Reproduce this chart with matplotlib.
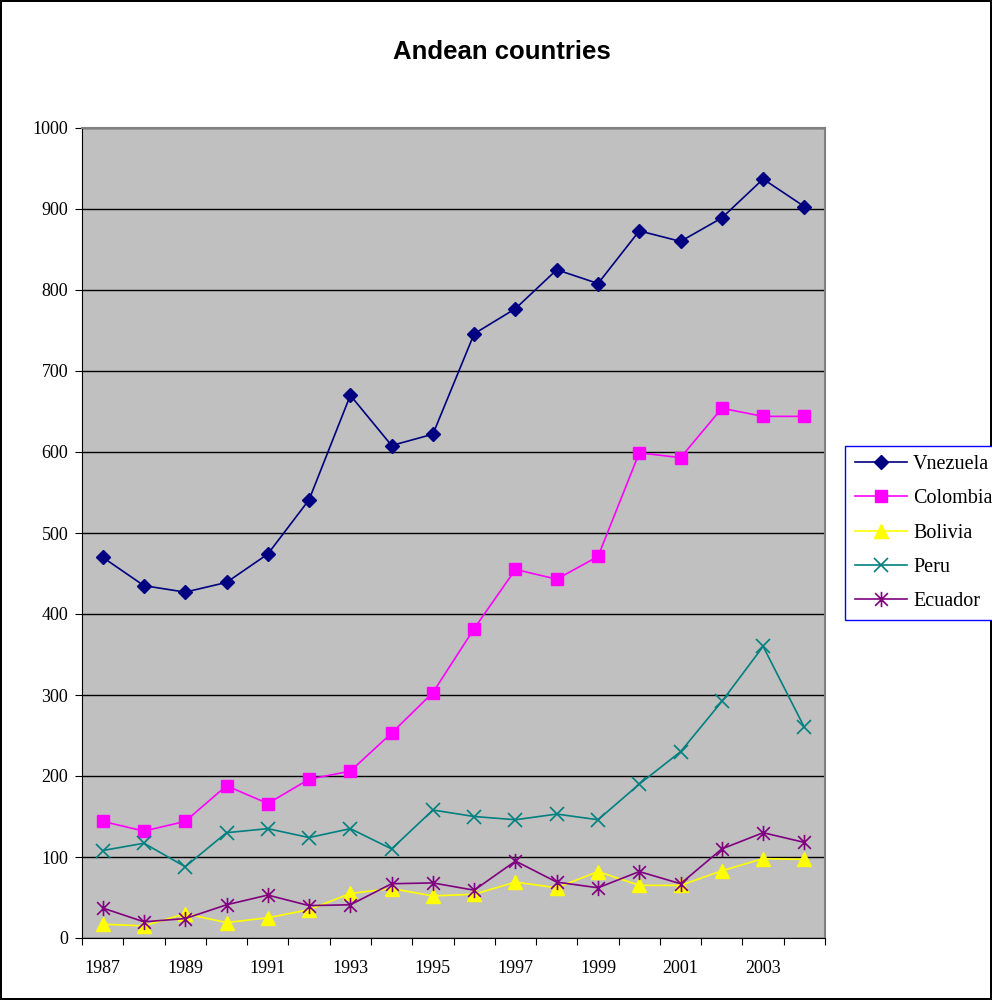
import matplotlib.pyplot as plt
from matplotlib.path import Path
import numpy as np

years = list(range(1987, 2005))
venezuela = [470, 435, 427, 439, 474, 541, 670, 608, 622, 746, 777, 825, 808, 873, 860, 889, 937, 903]
colombia = [144, 132, 144, 188, 166, 196, 206, 253, 303, 382, 455, 443, 471, 599, 593, 654, 644, 644]
bolivia = [17, 15, 30, 19, 25, 35, 55, 61, 52, 54, 69, 62, 82, 65, 65, 83, 98, 97]
peru = [108, 117, 88, 130, 135, 124, 135, 110, 158, 150, 146, 153, 146, 190, 230, 292, 360, 260]
ecuador = [37, 20, 24, 41, 53, 40, 41, 67, 68, 59, 95, 69, 62, 82, 67, 110, 130, 118]

# excel style asterisk: an x with a vertical bar through it
asterisk = Path([(-1, -1), (1, 1), (-1, 1), (1, -1), (0, -1.2), (0, 1.2)],
                [Path.MOVETO, Path.LINETO, Path.MOVETO, Path.LINETO, Path.MOVETO, Path.LINETO])

serif = 'Liberation Serif'

fig = plt.figure(figsize=(9.92, 10), dpi=100, facecolor='white',
                 edgecolor='black', linewidth=1.5)
ax = fig.add_axes([0.0827, 0.062, 0.749, 0.81])
ax.set_facecolor('#C0C0C0')

x = np.arange(len(years))
ax.plot(x, venezuela, color='#000080', marker='D', ms=7.5, lw=1.2, label='Vnezuela', zorder=3)
ax.plot(x, colombia, color='#FF00FF', marker='s', ms=9, lw=1.2, label='Colombia', zorder=3)
ax.plot(x, bolivia, color='#FFFF00', marker='^', ms=10, lw=1.2, label='Bolivia', zorder=3)
ax.plot(x, peru, color='#008080', marker='x', ms=10, mew=1.2, lw=1.2, label='Peru', zorder=3)
ax.plot(x, ecuador, color='#800080', marker=asterisk, ms=11, mew=1.2, lw=1.2, label='Ecuador', zorder=3)

ax.set_ylim(0, 1000)
ax.set_yticks(range(0, 1001, 100))
ax.yaxis.grid(True, color='black', lw=1)
ax.set_axisbelow(True)
ax.tick_params(axis='y', direction='out', length=5, labelsize=13, pad=5)

ax.set_xlim(-0.5, len(years) - 0.5)
ax.set_xticks(np.arange(-0.5, len(years), 1.0))
ax.set_xticklabels([])
ax.set_xticks(x[::2], minor=True)
ax.set_xticklabels([str(y) for y in years[::2]], minor=True)
ax.tick_params(axis='x', which='major', direction='out', length=5)
ax.tick_params(axis='x', which='minor', length=0, labelsize=13, pad=16)

for lab in ax.get_xticklabels(minor=True) + ax.get_yticklabels():
    lab.set_fontfamily(serif)

ax.spines['left'].set_color('black')
ax.spines['bottom'].set_color('black')
ax.spines['top'].set_color('#808080')
ax.spines['right'].set_color('#808080')
ax.spines['top'].set_linewidth(1.5)
ax.spines['right'].set_linewidth(1.5)

fig.text(0.506, 0.948, 'Andean countries', ha='center', va='center',
         fontsize=18.5, fontweight='bold', family='Liberation Sans')

leg = ax.legend(loc='center left', bbox_to_anchor=(1.0275, 0.5), frameon=True,
                fancybox=False, framealpha=1, edgecolor='#0000FF',
                prop={'family': serif, 'size': 14.5}, handlelength=2.6,
                borderpad=0.45, labelspacing=0.75, handletextpad=0.3, borderaxespad=0)
leg.get_frame().set_linewidth(1)

fig.savefig('out.png', dpi=100, facecolor='white', edgecolor='black')
